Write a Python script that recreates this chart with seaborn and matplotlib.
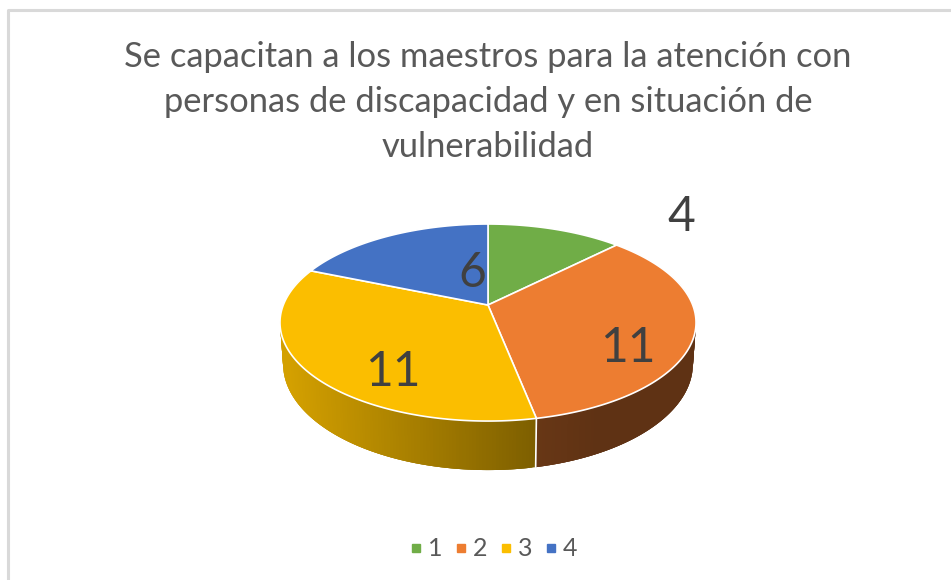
import numpy as np
import matplotlib
matplotlib.use("Agg")
import matplotlib.pyplot as plt
from matplotlib.lines import Line2D
import seaborn as sns

categories = ["1", "2", "3", "4"]
values = [4, 11, 11, 6]
colors = ["#70AD47", "#ED7D31", "#FBBE00", "#4472C4"]
title = ("Se capacitan a los maestros para la atención con\n"
         "personas de discapacidad y en situación de\n"
         "vulnerabilidad")

sns.set_theme(style="white")
plt.rcParams['font.family'] = ['Lato', 'DejaVu Sans']
palette = sns.color_palette(colors)

fig = plt.figure(figsize=(9.51, 5.8), dpi=100)
ax = fig.add_axes([0, 0, 1, 1])
ax.set_xlim(0, 951)
ax.set_ylim(580, 0)
ax.axis("off")

# chart frame
ax.plot([8, 8, 951], [580, 10, 10], color="#D9D9D9", lw=2.2, solid_capstyle="butt")

# projection of the pie disc
CX, CY, A, S, K, D = 488, 305, 204.7, 95.4, 0.178, 40.3


def project(theta, drop=False):
    u, v = np.sin(theta), np.cos(theta)
    w = 1 + K * v
    x, y = A * u / w, -S * v / w
    if drop:
        return CX + 0.985 * x, CY + y + D / w
    return CX + x, CY + y


edges = np.cumsum([0] + values) / sum(values) * 2 * np.pi


def shade(i, x):
    base = np.array(palette[i])
    if i == 2:
        return tuple(base * np.interp(x, [290, 537], [0.84, 0.5]))
    return tuple(base * np.interp(x, [537, 600], [0.44, 0.40]))


# side wall: overlapping thin strips per slice, so that no seams show
for i in range(len(values)):
    t = np.linspace(edges[i], edges[i + 1], 160)
    for j in range(len(t) - 1):
        a, b = t[j], t[min(j + 3, len(t) - 1)]
        if np.cos((a + b) / 2) > 0.3:
            continue
        xa, ya = project(a)
        xb, yb = project(b)
        xc, yc = project(b, True)
        xd, yd = project(a, True)
        c = shade(i, xa)
        ax.fill([xa, xb, xc, xd], [ya, yb, yc, yd], facecolor=c,
                edgecolor="none", lw=0, zorder=2)

# white seam on the front wall between slices
for e in edges:
    if np.cos(e) < -0.5:
        x0, y0 = project(e)
        x1, y1 = project(e, True)
        ax.plot([x0, x1], [y0, y1], color="white", lw=1.2, zorder=3)

# top of the disc
for i in range(len(values)):
    t = np.linspace(edges[i], edges[i + 1], 200)
    x, y = project(t)
    ax.fill(np.r_[CX, x], np.r_[CY, y], facecolor=palette[i],
            edgecolor="white", lw=1.2, zorder=4, joinstyle="round")

# data labels
label_xy = [(681, 217), (628, 348), (393, 372), (472, 273)]
for val, (lx, ly) in zip(values, label_xy):
    ax.text(lx, ly, str(val), ha="center", va="center", fontsize=34.5,
            color="#404040", zorder=5)

ax.text(488, 102, title, ha="center", va="center", fontsize=24.85,
        color="#595959", linespacing=1.49, zorder=5)

handles = [Line2D([], [], ls="", marker="s", ms=6.2, color=palette[i]) for i in range(4)]
ax.legend(handles, categories, loc="center", bbox_to_anchor=(493.5, 549),
          bbox_transform=ax.transData, ncol=4, frameon=False, fontsize=18,
          labelcolor="#595959", handlelength=0.5, handletextpad=0.2,
          columnspacing=0.52)

fig.savefig("out.png", dpi=100)
